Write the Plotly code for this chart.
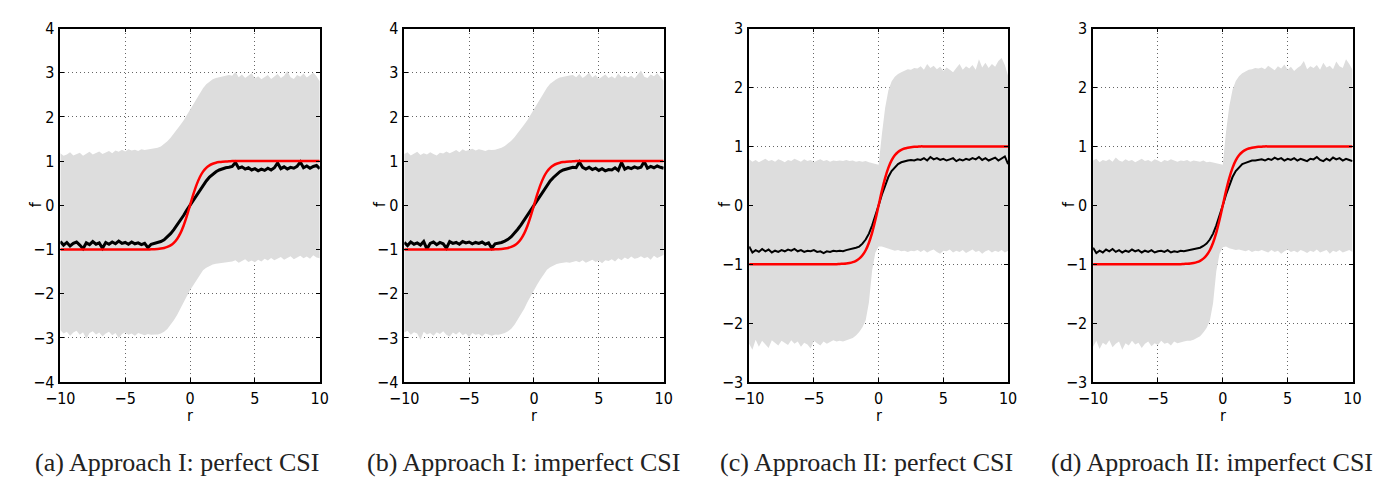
import plotly.graph_objects as go
from plotly.subplots import make_subplots

# sample positions of r
r = [-10, -9.75, -9.5, -9.25, -9, -8.75, -8.5, -8.25, -8, -7.75, -7.5, -7.25, -7, -6.75,
     -6.5, -6.25, -6, -5.75, -5.5, -5.25, -5, -4.75, -4.5, -4.25, -4, -3.75, -3.5, -3.25,
     -3, -2.75, -2.5, -2.25, -2, -1.75, -1.5, -1.25, -1, -0.75, -0.5, -0.25, 0,
     0.25, 0.5, 0.75, 1, 1.25, 1.5, 1.75, 2, 2.25, 2.5, 2.75, 3,
     3.25, 3.5, 3.75, 4, 4.25, 4.5, 4.75, 5, 5.25, 5.5, 5.75, 6, 6.25, 6.5, 6.75,
     7, 7.25, 7.5, 7.75, 8, 8.25, 8.5, 8.75, 9, 9.25, 9.5, 9.75, 10]

# true function (red)
f_true = [-1, -1, -1, -1, -1, -1, -1, -1, -1, -1, -1, -1, -1, -1,
          -1, -1, -1, -1, -1, -1, -1, -1, -1, -1, -1, -1, -1, -1,
          -0.995, -0.992, -0.987, -0.978, -0.964, -0.941, -0.905, -0.848, -0.762, -0.635, -0.462, -0.245, 0.0,
          0.245, 0.462, 0.635, 0.762, 0.848, 0.905, 0.941, 0.964, 0.978, 0.987, 0.992, 0.995,
          1, 1, 1, 1, 1, 1, 1, 1, 1, 1, 1, 1, 1, 1,
          1, 1, 1, 1, 1, 1, 1, 1, 1, 1, 1, 1, 1, 1]

# (a) Approach I, perfect CSI
a_hi = [1.18, 1.12, 1.15, 1.2, 1.13, 1.16, 1.19, 1.12, 1.17, 1.21, 1.15, 1.18, 1.22, 1.16,
        1.2, 1.23, 1.18, 1.24, 1.21, 1.26, 1.22, 1.27, 1.24, 1.26, 1.23, 1.27, 1.25, 1.26,
        1.27, 1.28, 1.3, 1.33, 1.38, 1.45, 1.53, 1.62, 1.72, 1.82, 1.92, 2.04, 2.16,
        2.3, 2.43, 2.55, 2.65, 2.74, 2.8, 2.85, 2.88, 2.9, 2.92, 2.93, 2.95,
        2.93, 3.02, 2.9, 2.96, 2.88, 2.94, 2.99, 2.87, 2.92, 2.85, 2.9, 2.95, 2.86, 2.91,
        2.97, 2.88, 2.93, 3.04, 2.9, 2.86, 2.95, 2.91, 2.98, 2.89, 2.94, 3.0, 2.92, 2.8]
a_lo = [-2.82, -2.9, -2.86, -2.95, -2.88, -2.84, -2.93, -2.87, -3.02, -2.89, -2.85, -2.92, -2.88, -2.96,
        -2.9, -2.86, -2.94, -2.89, -3.0, -2.91, -2.87, -2.93, -2.9, -2.95, -2.89, -2.92, -2.94, -2.91,
        -2.93, -2.92, -2.92, -2.9, -2.86, -2.8, -2.71, -2.6, -2.48, -2.35, -2.2, -2.06, -1.92,
        -1.8, -1.68, -1.56, -1.47, -1.41, -1.37, -1.34, -1.32, -1.31, -1.3, -1.29, -1.28,
        -1.27, -1.24, -1.3, -1.26, -1.22, -1.28, -1.25, -1.29, -1.23, -1.27, -1.21, -1.25, -1.19, -1.24,
        -1.2, -1.17, -1.23, -1.19, -1.15, -1.22, -1.18, -1.14, -1.2, -1.16, -1.21, -1.13, -1.18, -1.2]
a_mean = [-0.82, -0.9, -0.84, -0.92, -0.86, -0.83, -0.9, -0.98, -0.85, -0.89, -0.82, -0.88, -0.85, -0.97,
          -0.84, -0.88, -0.83, -0.87, -0.81, -0.86, -0.84, -0.88, -0.83, -0.87, -0.85, -0.89, -0.86, -0.96,
          -0.88, -0.86, -0.85, -0.82, -0.78, -0.72, -0.64, -0.55, -0.45, -0.34, -0.23, -0.11, 0.0,
          0.12, 0.24, 0.35, 0.45, 0.55, 0.64, 0.71, 0.76, 0.8, 0.83, 0.85, 0.86,
          0.88, 0.97, 0.84, 0.87, 0.82, 0.85, 0.8, 0.83, 0.78, 0.82, 0.79, 0.84, 0.8, 0.85,
          0.96, 0.83, 0.87, 0.82, 0.86, 0.84, 0.88, 0.98, 0.85, 0.89, 0.84, 0.88, 0.9, 0.83]

# (b) Approach I, imperfect CSI
b_hi = [1.16, 1.2, 1.13, 1.17, 1.21, 1.14, 1.18, 1.15, 1.2, 1.16, 1.13, 1.19, 1.17, 1.22,
        1.18, 1.21, 1.25, 1.2, 1.27, 1.23, 1.26, 1.28, 1.24, 1.27, 1.25, 1.23, 1.26, 1.25,
        1.26, 1.28, 1.3, 1.34, 1.39, 1.46, 1.54, 1.63, 1.73, 1.83, 1.93, 2.05, 2.17,
        2.31, 2.44, 2.56, 2.66, 2.75, 2.81, 2.86, 2.89, 2.91, 2.92, 2.94, 2.95,
        2.9, 2.97, 2.88, 2.93, 3.0, 2.89, 2.95, 2.86, 2.91, 2.96, 2.88, 2.92, 2.87, 2.98,
        2.9, 2.94, 2.89, 2.93, 2.87, 2.95, 3.05, 2.91, 2.88, 2.96, 2.92, 2.99, 2.9, 2.82]
b_lo = [-2.88, -2.84, -2.93, -2.87, -2.9, -3.04, -2.86, -2.92, -2.89, -2.95, -2.87, -2.91, -2.85, -2.93,
        -2.97, -2.88, -2.92, -2.86, -2.94, -2.9, -2.98, -2.89, -2.93, -2.91, -2.96, -2.9, -2.92, -2.95,
        -2.92, -2.93, -2.91, -2.89, -2.85, -2.79, -2.7, -2.59, -2.47, -2.34, -2.19, -2.05, -1.91,
        -1.79, -1.67, -1.55, -1.46, -1.4, -1.36, -1.33, -1.31, -1.3, -1.29, -1.3, -1.28,
        -1.26, -1.29, -1.24, -1.3, -1.27, -1.23, -1.28, -1.25, -1.31, -1.24, -1.26, -1.22, -1.27, -1.2,
        -1.24, -1.18, -1.22, -1.16, -1.21, -1.19, -1.15, -1.2, -1.17, -1.23, -1.14, -1.19, -1.16, -1.12]
b_mean = [-0.84, -0.91, -0.83, -0.88, -0.85, -0.9, -0.82, -0.99, -0.86, -0.83, -0.89, -0.84, -0.87, -0.97,
          -0.82, -0.86, -0.84, -0.88, -0.82, -0.85, -0.83, -0.87, -0.84, -0.86, -0.83, -0.88, -0.85, -0.97,
          -0.87, -0.86, -0.84, -0.81, -0.77, -0.71, -0.63, -0.54, -0.44, -0.33, -0.22, -0.11, 0.0,
          0.12, 0.23, 0.34, 0.45, 0.55, 0.63, 0.7, 0.76, 0.8, 0.82, 0.84, 0.86,
          0.85, 0.98, 0.86, 0.82, 0.86, 0.81, 0.84, 0.79, 0.83, 0.78, 0.81, 0.8, 0.85, 0.79,
          0.97, 0.82, 0.86, 0.83, 0.87, 0.84, 0.86, 0.99, 0.84, 0.88, 0.85, 0.89, 0.86, 0.84]

# (c) Approach II, perfect CSI
c_hi = [0.78, 0.74, 0.77, 0.73, 0.76, 0.79, 0.75, 0.77, 0.74, 0.78, 0.76, 0.73, 0.77, 0.75,
        0.79, 0.76, 0.74, 0.78, 0.75, 0.77, 0.73, 0.76, 0.78, 0.75, 0.77, 0.74, 0.76, 0.75,
        0.76, 0.75, 0.77, 0.75, 0.76, 0.74, 0.75, 0.74, 0.75, 0.73, 0.72, 0.7, 0.69,
        1.2, 1.65, 1.95, 2.1, 2.18, 2.23, 2.26, 2.29, 2.31, 2.3, 2.33, 2.32,
        2.36, 2.3, 2.4, 2.33, 2.37, 2.31, 2.35, 2.28, 2.34, 2.3, 2.26, 2.33, 2.4, 2.3,
        2.36, 2.32, 2.38, 2.3, 2.48, 2.34, 2.42, 2.33, 2.4, 2.35, 2.45, 2.5, 2.38, 2.2]
c_lo = [-2.35, -2.45, -2.28, -2.4, -2.3, -2.36, -2.42, -2.29, -2.34, -2.38, -2.3, -2.33, -2.37, -2.29,
        -2.35, -2.31, -2.4, -2.33, -2.36, -2.43, -2.3, -2.34, -2.38, -2.31, -2.35, -2.32, -2.29, -2.31,
        -2.3, -2.31, -2.29, -2.27, -2.25, -2.21, -2.15, -2.07, -1.95, -1.65, -1.1, -0.8, -0.7,
        -0.7, -0.72, -0.74, -0.75, -0.77, -0.76, -0.78, -0.77, -0.79, -0.77, -0.78, -0.76,
        -0.79, -0.76, -0.8, -0.77, -0.75, -0.79, -0.82, -0.77, -0.78, -0.75, -0.8, -0.77, -0.79, -0.76,
        -0.81, -0.78, -0.75, -0.79, -0.77, -0.82, -0.78, -0.76, -0.8, -0.77, -0.79, -0.76, -0.8, -0.77]
c_mean = [-0.7, -0.8, -0.76, -0.79, -0.74, -0.78, -0.75, -0.8, -0.77, -0.79, -0.76, -0.78, -0.75, -0.77,
          -0.74, -0.78, -0.76, -0.79, -0.77, -0.78, -0.76, -0.79, -0.78, -0.81, -0.78, -0.79, -0.77, -0.78,
          -0.77, -0.78, -0.76, -0.75, -0.74, -0.72, -0.7, -0.65, -0.58, -0.48, -0.34, -0.18, 0.0,
          0.18, 0.34, 0.48, 0.58, 0.65, 0.7, 0.73, 0.75, 0.76, 0.77, 0.76, 0.78,
          0.77, 0.8, 0.76, 0.82, 0.78, 0.8, 0.77, 0.79, 0.76, 0.78, 0.8, 0.75, 0.78, 0.76,
          0.79, 0.77, 0.8, 0.78, 0.82, 0.77, 0.8, 0.76, 0.79, 0.81, 0.76, 0.8, 0.83, 0.7]

# (d) Approach II, imperfect CSI
d_hi = [0.76, 0.79, 0.73, 0.77, 0.75, 0.78, 0.74, 0.81, 0.76, 0.74, 0.78, 0.75, 0.77, 0.73,
        0.76, 0.79, 0.75, 0.77, 0.74, 0.78, 0.76, 0.73, 0.77, 0.75, 0.78, 0.76, 0.74, 0.76,
        0.75, 0.77, 0.74, 0.76, 0.75, 0.74, 0.76, 0.73, 0.74, 0.73, 0.72, 0.7, 0.69,
        1.25, 1.68, 1.96, 2.11, 2.19, 2.24, 2.27, 2.3, 2.31, 2.33, 2.32, 2.34,
        2.31, 2.37, 2.33, 2.29, 2.36, 2.32, 2.39, 2.3, 2.35, 2.28, 2.33, 2.37, 2.45, 2.31,
        2.36, 2.33, 2.38, 2.3, 2.42, 2.34, 2.37, 2.31, 2.44, 2.36, 2.33, 2.48, 2.4, 2.3]
d_lo = [-2.4, -2.3, -2.44, -2.33, -2.37, -2.29, -2.41, -2.35, -2.31, -2.45, -2.34, -2.38, -2.3, -2.36,
        -2.33, -2.42, -2.35, -2.31, -2.39, -2.34, -2.37, -2.3, -2.35, -2.33, -2.38, -2.31, -2.34, -2.32,
        -2.31, -2.3, -2.3, -2.28, -2.25, -2.22, -2.16, -2.08, -1.96, -1.66, -1.12, -0.82, -0.71,
        -0.7, -0.73, -0.74, -0.76, -0.75, -0.77, -0.78, -0.76, -0.79, -0.77, -0.78, -0.76,
        -0.78, -0.8, -0.76, -0.79, -0.77, -0.82, -0.78, -0.75, -0.79, -0.77, -0.8, -0.76, -0.78, -0.81,
        -0.77, -0.79, -0.75, -0.8, -0.78, -0.76, -0.82, -0.77, -0.79, -0.76, -0.8, -0.78, -0.76, -0.79]
d_mean = [-0.72, -0.81, -0.77, -0.8, -0.75, -0.78, -0.74, -0.79, -0.76, -0.8, -0.77, -0.79, -0.75, -0.78,
          -0.76, -0.8, -0.77, -0.79, -0.76, -0.8, -0.78, -0.77, -0.79, -0.76, -0.8, -0.78, -0.79, -0.77,
          -0.78, -0.77, -0.76, -0.75, -0.74, -0.72, -0.69, -0.65, -0.58, -0.48, -0.34, -0.18, 0.0,
          0.18, 0.34, 0.48, 0.58, 0.65, 0.7, 0.72, 0.74, 0.76, 0.76, 0.77, 0.78,
          0.76, 0.79, 0.77, 0.81, 0.78, 0.8, 0.76, 0.79, 0.77, 0.8, 0.76, 0.79, 0.77, 0.75,
          0.79, 0.78, 0.82, 0.77, 0.75, 0.79, 0.76, 0.81, 0.78, 0.8, 0.76, 0.79, 0.77, 0.75]

captions = ['(a) Approach I: perfect CSI', '(b) Approach I: imperfect CSI',
            '(c) Approach II: perfect CSI', '(d) Approach II: imperfect CSI']
yranges = [(-4, 4), (-4, 4), (-3, 3), (-3, 3)]
panels = [(a_hi, a_lo, a_mean, 3), (b_hi, b_lo, b_mean, 3),
          (c_hi, c_lo, c_mean, 2), (d_hi, d_lo, d_mean, 2)]

for arr in [r, f_true, a_hi, a_lo, a_mean, b_hi, b_lo, b_mean,
            c_hi, c_lo, c_mean, d_hi, d_lo, d_mean]:
    assert len(arr) == 81, len(arr)

W, H = 1382, 485
tick_font = dict(family='Liberation Sans Narrow, DejaVu Sans Condensed, Liberation Sans, Arial',
                 size=16, color='black')
cap_font = dict(family='Liberation Serif, Times New Roman, serif', size=26, color='#222222')

# pixel boxes of the four axes (left, right), shared top/bottom
boxes = [(38, 302), (388, 652), (739, 1002.5), (1089, 1353)]
top, bottom = 12, 380
cap_x = [157, 509, 858, 1210]

fig = make_subplots(rows=1, cols=4)

for k, (hi, lo, mean, mw) in enumerate(panels):
    col = k + 1
    fig.add_trace(go.Scatter(x=r, y=lo, mode='lines', line=dict(width=0, color='#dddddd'),
                             hoverinfo='skip'), row=1, col=col)
    fig.add_trace(go.Scatter(x=r, y=hi, mode='lines', line=dict(width=0, color='#dddddd'),
                             fill='tonexty', fillcolor='#dddddd', hoverinfo='skip'), row=1, col=col)
    fig.add_trace(go.Scatter(x=r, y=mean, mode='lines', line=dict(width=mw, color='black')),
                  row=1, col=col)
    fig.add_trace(go.Scatter(x=r, y=f_true, mode='lines', line=dict(width=2.5, color='red', shape='spline')),
                  row=1, col=col)

    left, right = boxes[k]
    ax = dict(showline=True, mirror='ticks', linecolor='black', linewidth=1.5,
              ticks='inside', ticklen=4, tickcolor='black', tickfont=tick_font,
              showgrid=True, gridcolor='#666666', griddash='1px,3px', gridwidth=1,
              zeroline=False)
    fig.update_xaxes(ax, range=[-10, 10], tickvals=[-10, -5, 0, 5, 10],
                     ticktext=['\u221210', '\u22125', '0', '5', '10'],
                     domain=[left / W, right / W], ticklabelstandoff=1, row=1, col=col)
    y0, y1 = yranges[k]
    yt = list(range(y0, y1 + 1))
    fig.update_yaxes(ax, range=[y0, y1], tickvals=yt,
                     ticktext=[('\u2212' + str(-v)) if v < 0 else str(v) for v in yt],
                     domain=[1 - bottom / H, 1 - top / H], ticklabelstandoff=1, row=1, col=col)

    cx = (left + right) / 2
    fig.add_annotation(text='r', x=cx / W, y=1 - 415 / H, xref='paper', yref='paper',
                       xanchor='center', yanchor='middle', showarrow=False, font=tick_font)
    fig.add_annotation(text='f', x=(left - 25) / W, y=1 - 195 / H, xref='paper', yref='paper',
                       xanchor='center', yanchor='middle', showarrow=False, font=tick_font,
                       textangle=-90)
    fig.add_annotation(text=captions[k], x=cap_x[k] / W, y=1 - 464 / H, xref='paper', yref='paper',
                       xanchor='center', yanchor='middle', showarrow=False, font=cap_font)

fig.update_layout(width=W, height=H, margin=dict(l=0, r=0, t=0, b=0),
                  plot_bgcolor='white', paper_bgcolor='white', showlegend=False)

fig.write_html("out.html")
